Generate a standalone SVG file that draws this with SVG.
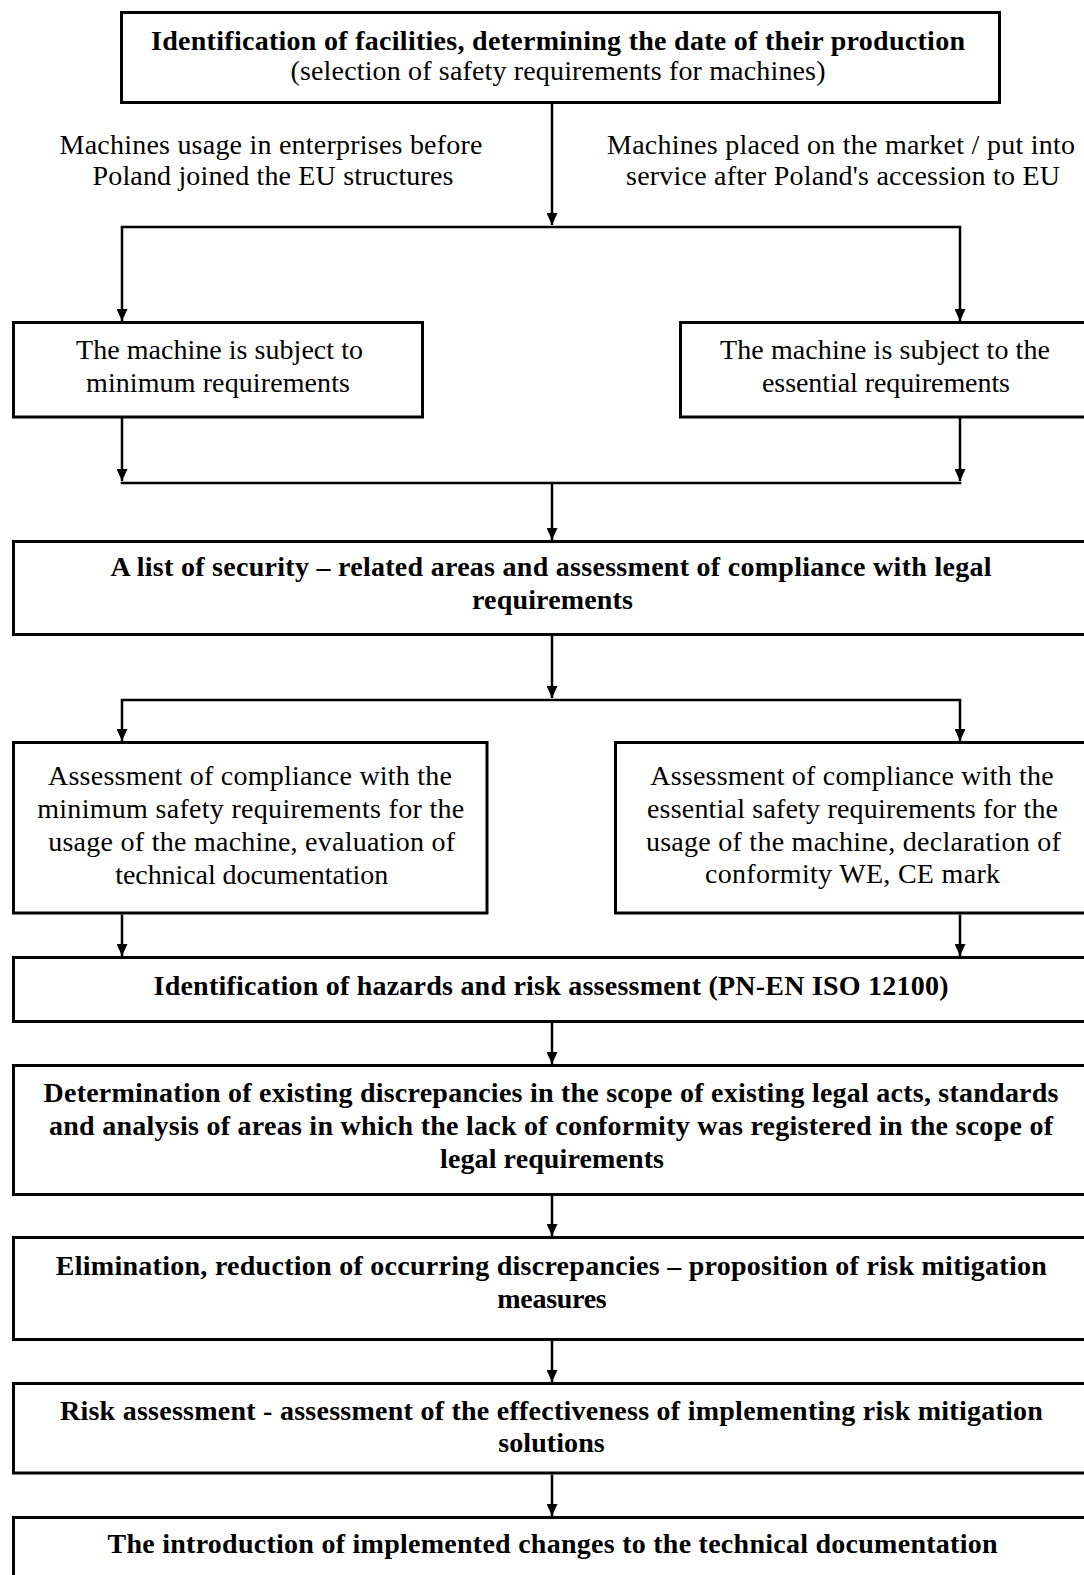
<svg xmlns="http://www.w3.org/2000/svg" width="1084" height="1575" viewBox="0 0 1084 1575">
<defs>
<style>
.box{fill:#fff;stroke:#000;stroke-width:3}
.t{font-family:"Liberation Serif","Times New Roman",serif;font-size:28px;fill:#000;text-anchor:middle}
.b{font-weight:bold}
.c{fill:none;stroke:#000;stroke-width:2.5}
.h{fill:none;stroke:#000;stroke-width:2.5;stroke-linecap:square}
</style>
<marker id="ah" markerUnits="userSpaceOnUse" markerWidth="12" markerHeight="11" refX="12" refY="5.5" orient="auto"><path d="M0,0 L12,5.5 L0,11 z" fill="#000"/></marker>
</defs>
<rect width="1084" height="1575" fill="#fff"/>

<g id="connectors">
<path class="c" d="M552,103 V225" marker-end="url(#ah)"/>
<path class="h" d="M122,227 H960"/>
<path class="c" d="M122,227 V321" marker-end="url(#ah)"/>
<path class="c" d="M960,227 V321" marker-end="url(#ah)"/>
<path class="c" d="M122,418 V481" marker-end="url(#ah)"/>
<path class="c" d="M960,418 V481" marker-end="url(#ah)"/>
<path class="h" d="M122,483 H960"/>
<path class="c" d="M552,483 V540" marker-end="url(#ah)"/>
<path class="c" d="M552,636 V698" marker-end="url(#ah)"/>
<path class="h" d="M122,700 H960"/>
<path class="c" d="M122,700 V741" marker-end="url(#ah)"/>
<path class="c" d="M960,700 V741" marker-end="url(#ah)"/>
<path class="c" d="M122,914.5 V956" marker-end="url(#ah)"/>
<path class="c" d="M960,914.5 V956" marker-end="url(#ah)"/>
<path class="c" d="M552,1023 V1064" marker-end="url(#ah)"/>
<path class="c" d="M552,1196 V1236" marker-end="url(#ah)"/>
<path class="c" d="M552,1341 V1382" marker-end="url(#ah)"/>
<path class="c" d="M552,1474.5 V1516" marker-end="url(#ah)"/>
</g>

<g id="labels">
<text class="t" x="271" y="154" textLength="423" lengthAdjust="spacing">Machines usage in enterprises before</text>
<text class="t" x="273" y="185" textLength="361" lengthAdjust="spacing">Poland joined the EU structures</text>
<text class="t" x="841" y="154" textLength="468" lengthAdjust="spacing">Machines placed on the market / put into</text>
<text class="t" x="843" y="185" textLength="434" lengthAdjust="spacing">service after Poland's accession to EU</text>
</g>

<g id="n1">
<rect class="box" x="121.5" y="12.5" width="878" height="90"/>
<text class="t b" x="558" y="50" textLength="814" lengthAdjust="spacing">Identification of facilities, determining the date of their production</text>
<text class="t" x="558" y="80" textLength="535" lengthAdjust="spacing">(selection of safety requirements for machines)</text>
</g>

<g id="n2">
<rect class="box" x="13.5" y="322.5" width="409" height="94.5"/>
<text class="t" x="219.5" y="359" textLength="287" lengthAdjust="spacing">The machine is subject to</text>
<text class="t" x="218" y="392" textLength="264" lengthAdjust="spacing">minimum requirements</text>
</g>

<g id="n3">
<rect class="box" x="680.5" y="322.5" width="420" height="94.5"/>
<text class="t" x="885" y="359" textLength="330" lengthAdjust="spacing">The machine is subject to the</text>
<text class="t" x="886" y="392" textLength="248" lengthAdjust="spacing">essential requirements</text>
</g>

<g id="n4">
<rect class="box" x="13.5" y="541.5" width="1080" height="93"/>
<text class="t b" x="551" y="576" textLength="881" lengthAdjust="spacing">A list of security – related areas and assessment of compliance with legal</text>
<text class="t b" x="552.5" y="609" textLength="161" lengthAdjust="spacing">requirements</text>
</g>

<g id="n5">
<rect class="box" x="13.5" y="742.5" width="473.5" height="170.5"/>
<text class="t" x="250" y="785" textLength="404" lengthAdjust="spacing">Assessment of compliance with the</text>
<text class="t" x="250.7" y="818" textLength="427" lengthAdjust="spacing">minimum safety requirements for the</text>
<text class="t" x="251.7" y="851" textLength="407" lengthAdjust="spacing">usage of the machine, evaluation of</text>
<text class="t" x="251.7" y="884" textLength="273" lengthAdjust="spacing">technical documentation</text>
</g>

<g id="n6">
<rect class="box" x="615.5" y="742.5" width="480" height="170.5"/>
<text class="t" x="852" y="785" textLength="403.5" lengthAdjust="spacing">Assessment of compliance with the</text>
<text class="t" x="852.5" y="818" textLength="411" lengthAdjust="spacing">essential safety requirements for the</text>
<text class="t" x="853.4" y="851" textLength="415" lengthAdjust="spacing">usage of the machine, declaration of</text>
<text class="t" x="852.5" y="883" textLength="295" lengthAdjust="spacing">conformity WE, CE mark</text>
</g>

<g id="n7">
<rect class="box" x="13.5" y="957.5" width="1080" height="64"/>
<text class="t b" x="551" y="995" textLength="795" lengthAdjust="spacing">Identification of hazards and risk assessment (PN-EN ISO 12100)</text>
</g>

<g id="n8">
<rect class="box" x="13.5" y="1065.5" width="1080" height="129"/>
<text class="t b" x="551" y="1102" textLength="1015" lengthAdjust="spacing">Determination of existing discrepancies in the scope of existing legal acts, standards</text>
<text class="t b" x="551" y="1135" textLength="1004" lengthAdjust="spacing">and analysis of areas in which the lack of conformity was registered in the scope of</text>
<text class="t b" x="552" y="1168" textLength="224" lengthAdjust="spacing">legal requirements</text>
</g>

<g id="n9">
<rect class="box" x="13.5" y="1237.5" width="1080" height="102"/>
<text class="t b" x="551.3" y="1275" textLength="991" lengthAdjust="spacing">Elimination, reduction of occurring discrepancies – proposition of risk mitigation</text>
<text class="t b" x="552" y="1308" textLength="109.5" lengthAdjust="spacing">measures</text>
</g>

<g id="n10">
<rect class="box" x="13.5" y="1383.5" width="1080" height="89.5"/>
<text class="t b" x="551.4" y="1420" textLength="983" lengthAdjust="spacing">Risk assessment - assessment of the effectiveness of implementing risk mitigation</text>
<text class="t b" x="551.5" y="1452" textLength="106.5" lengthAdjust="spacing">solutions</text>
</g>

<g id="n11">
<rect class="box" x="13.5" y="1517.5" width="1080" height="80"/>
<text class="t b" x="552.5" y="1553" textLength="890" lengthAdjust="spacing">The introduction of implemented changes to the technical documentation</text>
</g>
</svg>
